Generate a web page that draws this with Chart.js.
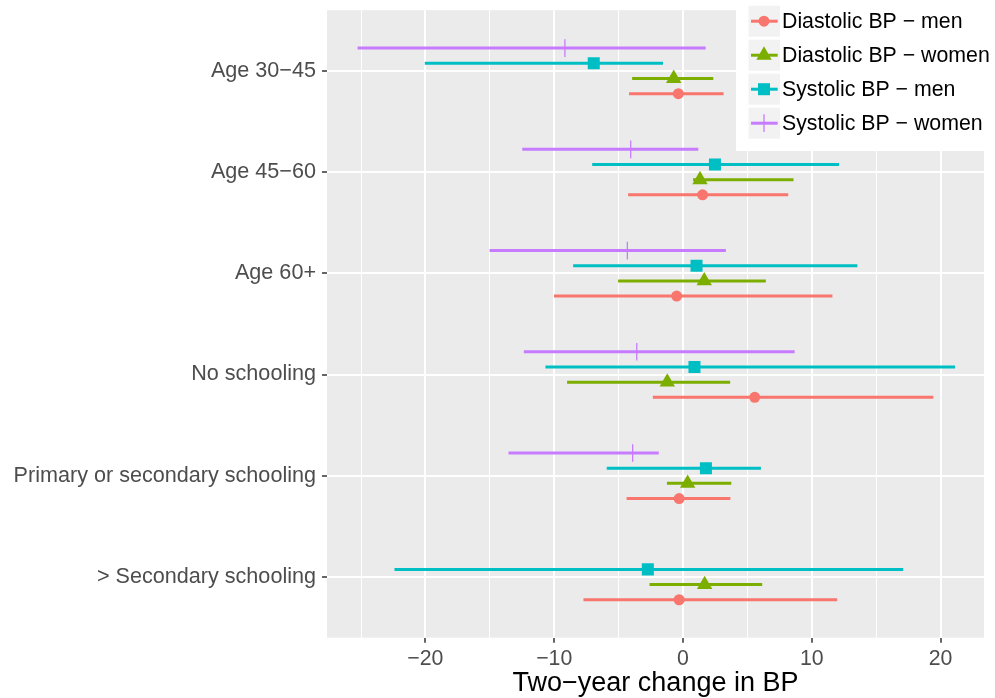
<!DOCTYPE html>
<html>
<head>
<meta charset="utf-8">
<script src="https://cdn.jsdelivr.net/npm/chart.js@4.4.0/dist/chart.umd.min.js"></script>
<style>
    html, body { margin: 0; padding: 0; background: #ffffff; }
    canvas { display: block; }
</style>
</head>
<body>
<canvas id="bpChart" width="995" height="698"></canvas>
<script>
// -----------------------------
// Data
// -----------------------------
const categories = [
    'Age 30−45',
    'Age 45−60',
    'Age 60+',
    'No schooling',
    'Primary or secondary schooling',
    '> Secondary schooling'
];

const seriesNames = ['Diastolic BP − men', 'Diastolic BP − women', 'Systolic BP − men', 'Systolic BP − women'];

const diastolicMenEst = [-0.36, 1.52, -0.49, 5.57, -0.30, -0.30];
const diastolicMenLo  = [-4.19, -4.26, -10.02, -2.34, -4.38, -7.73];
const diastolicMenHi  = [3.15, 8.17, 11.60, 19.44, 3.68, 11.97];

const diastolicWomenEst = [-0.72, 1.32, 1.65, -1.22, 0.36, 1.68];
const diastolicWomenLo  = [-3.95, 0.78, -5.04, -9.00, -1.25, -2.60];
const diastolicWomenHi  = [2.35, 8.58, 6.43, 3.66, 3.75, 6.15];

const systolicMenEst = [-6.93, 2.48, 1.05, 0.89, 1.78, -2.73];
const systolicMenLo  = [-20.05, -7.05, -8.53, -10.68, -5.92, -22.40];
const systolicMenHi  = [-1.55, 12.12, 13.54, 21.12, 6.05, 17.10];

const systolicWomenEst = [-9.17, -4.06, -4.32, -3.59, -3.91, null];
const systolicWomenLo  = [-25.27, -12.48, -15.02, -12.36, -13.55, null];
const systolicWomenHi  = [1.76, 1.19, 3.33, 8.67, -1.88, null];

const xTickValues = [-25, -20, -15, -10, -5, 0, 5, 10, 15, 20];
const xMajorTicks = [-20, -10, 0, 10, 20];
const xTickLabels = ['−20', '−10', '0', '10', '20'];

// -----------------------------
// Styling
// -----------------------------
const fontFamily = '"Liberation Sans", Arial, Helvetica, sans-serif';
const seriesColors = ['#F8766D', '#7CAE00', '#00BFC4', '#C77CFF'];
const seriesShapes = ['circle', 'triangle', 'rect', 'cross'];
const seriesRadii = [5.5, 8.9, 8.5, 8.85];
const seriesBorder = [0, 0, 0, 1.3];
const dodge = [0.225, 0.075, -0.075, -0.225];
const panelColor = '#EBEBEB';
const tickTextColor = '#4D4D4D';
const tickMarkColor = '#333333';

const estimates = [diastolicMenEst, diastolicWomenEst, systolicMenEst, systolicWomenEst];
const lows = [diastolicMenLo, diastolicWomenLo, systolicMenLo, systolicWomenLo];
const highs = [diastolicMenHi, diastolicWomenHi, systolicMenHi, systolicWomenHi];

function isMajor(v) {
    return xMajorTicks.indexOf(v) !== -1;
}

// -----------------------------
// Datasets: error bars (lines) + point estimates
// -----------------------------
const datasets = [];
seriesNames.forEach((name, s) => {
    const barData = [];
    const pointData = [];
    categories.forEach((cat, i) => {
        if (estimates[s][i] === null) return;
        const y = i + dodge[s];
        barData.push({x: lows[s][i], y: y}, {x: highs[s][i], y: y}, {x: null, y: null});
        pointData.push({x: estimates[s][i], y: y});
    });
    datasets.push({
        label: name + ' CI',
        data: barData,
        showLine: true,
        spanGaps: false,
        borderColor: seriesColors[s],
        borderWidth: 3,
        pointRadius: 0,
        order: 2
    });
    datasets.push({
        label: name,
        data: pointData,
        showLine: false,
        pointStyle: seriesShapes[s],
        pointRadius: seriesRadii[s],
        pointBackgroundColor: seriesColors[s],
        pointBorderColor: seriesColors[s],
        pointBorderWidth: seriesBorder[s],
        order: 1
    });
});

// -----------------------------
// Plugins: panel background + ggplot-like legend
// -----------------------------
const panelPlugin = {
    id: 'panelBg',
    beforeDraw(chart) {
        const {ctx, chartArea: a} = chart;
        ctx.save();
        ctx.fillStyle = '#ffffff';
        ctx.fillRect(0, 0, chart.width, chart.height);
        ctx.fillStyle = panelColor;
        ctx.fillRect(a.left, a.top, a.right - a.left, a.bottom - a.top);
        ctx.restore();
    }
};

const legendPlugin = {
    id: 'bpLegend',
    afterDraw(chart) {
        const ctx = chart.ctx;
        ctx.save();
        ctx.fillStyle = '#ffffff';
        ctx.fillRect(736, 0, chart.width - 736, 151);
        seriesNames.forEach((name, s) => {
            const top = 5.7 + s * 34;
            const cy = top + 15.5;
            ctx.fillStyle = '#F2F2F2';
            ctx.fillRect(748.5, top, 31.5, 31);

            ctx.strokeStyle = seriesColors[s];
            ctx.lineWidth = 3;
            ctx.beginPath();
            ctx.moveTo(751, cy);
            ctx.lineTo(777.7, cy);
            ctx.stroke();

            ctx.fillStyle = seriesColors[s];
            ctx.lineWidth = seriesBorder[s];
            Chart.helpers.drawPoint(ctx, {
                pointStyle: seriesShapes[s],
                radius: seriesRadii[s],
                rotation: 0,
                borderWidth: seriesBorder[s]
            }, 764, cy);

            ctx.fillStyle = '#000000';
            ctx.font = '21.3px ' + fontFamily;
            ctx.textAlign = 'left';
            ctx.textBaseline = 'middle';
            ctx.fillText(name, 782, cy + 1);
        });
        ctx.restore();
    }
};

Chart.defaults.font.family = fontFamily;

new Chart(document.getElementById('bpChart'), {
    type: 'scatter',
    data: {datasets: datasets},
    plugins: [panelPlugin, legendPlugin],
    options: {
        responsive: false,
        animation: false,
        events: [],
        layout: {padding: {top: 10, right: 11, left: 0, bottom: 0}},
        plugins: {
            legend: {display: false},
            tooltip: {enabled: false}
        },
        scales: {
            x: {
                type: 'linear',
                min: -27.64,
                max: 23.37,
                afterBuildTicks: sc => { sc.ticks = xTickValues.map(v => ({value: v})); },
                afterFit: sc => { sc.height = 60.3; sc.paddingLeft = 0; sc.paddingRight = 0; },
                border: {display: false},
                grid: {
                    color: '#ffffff',
                    lineWidth: c => (c.tick && isMajor(c.tick.value)) ? 2 : 1,
                    tickLength: 5,
                    tickWidth: 1.5,
                    tickColor: c => (c.tick && isMajor(c.tick.value)) ? tickMarkColor : 'rgba(0,0,0,0)'
                },
                ticks: {
                    color: tickTextColor,
                    font: {size: 21.3},
                    padding: 4,
                    autoSkip: false,
                    maxRotation: 0,
                    callback: v => {
                        const k = xMajorTicks.indexOf(v);
                        return k === -1 ? '' : xTickLabels[k];
                    }
                },
                title: {
                    display: true,
                    text: 'Two−year change in BP',
                    color: '#000000',
                    font: {size: 27, lineHeight: 1.1},
                    padding: {top: 0, bottom: 0}
                }
            },
            y: {
                type: 'linear',
                reverse: true,
                min: -0.6,
                max: 5.6,
                afterBuildTicks: sc => { sc.ticks = categories.map((c, i) => ({value: i})); },
                afterFit: sc => { sc.width = 327; sc.paddingTop = 0; sc.paddingBottom = 0; },
                border: {display: false},
                grid: {
                    color: '#ffffff',
                    lineWidth: 2,
                    tickLength: 5,
                    tickWidth: 1.5,
                    tickColor: tickMarkColor
                },
                ticks: {
                    color: tickTextColor,
                    font: {size: 21.6},
                    padding: 6,
                    autoSkip: false,
                    callback: v => categories[v]
                }
            }
        }
    }
});
</script>
</body>
</html>
